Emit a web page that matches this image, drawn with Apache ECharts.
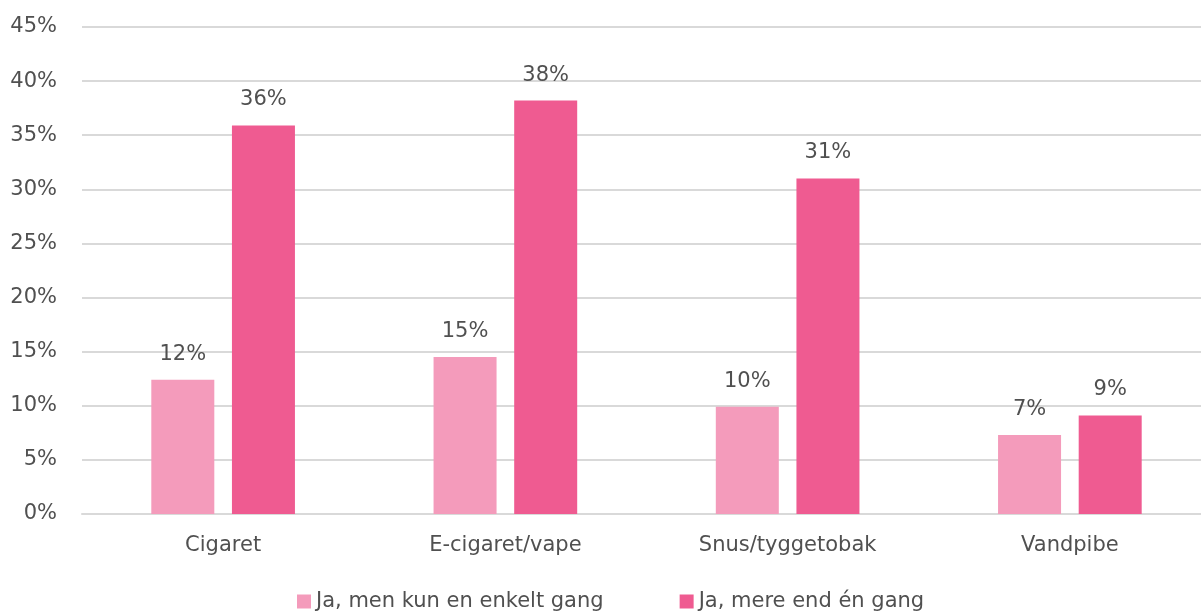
<!DOCTYPE html>
<html>
<head>
<meta charset="utf-8">
<script src="https://cdn.jsdelivr.net/npm/echarts@6/dist/echarts.min.js"></script>
<style>
  html, body { margin: 0; padding: 0; background: #fff; overflow: hidden; }
  /* plot runs a little past the right edge of the window, as in the original */
  #main { width: 1220px; height: 612px; }
</style>
</head>
<body>
<div id="main"></div>
<script>
  const categories = ['Cigaret', 'E-cigaret/vape', 'Snus/tyggetobak', 'Vandpibe']
  const seriesNames = ['Ja, men kun en enkelt gang', 'Ja, mere end én gang']
  const enkeltGang = [12.4, 14.5, 9.9, 7.3]
  const mereEndEn = [35.9, 38.2, 31.0, 9.1]
  const yTicks = [0, 5, 10, 15, 20, 25, 30, 35, 40, 45]
  const colors = ['#F49BBB', '#EF5B91']

  const textColor = '#505050'
  const font = '"DejaVu Sans", sans-serif'
  const fontSize = 21

  const myechart = echarts.init(document.getElementById('main'))
  const barLabel = {
    show: true,
    position: 'top',
    distance: 15,
    color: textColor,
    fontFamily: font,
    fontSize: fontSize,
    formatter: p => Math.round(p.value) + '%'
  }
  const option = {
    animation: false,
    color: colors,
    grid: { left: 82, top: 27, width: 1129, bottom: 98 },
    legend: {
      bottom: -5,
      left: 292,
      icon: 'rect',
      itemWidth: 14,
      itemHeight: 14,
      itemGap: 76,
      textStyle: { color: textColor, fontFamily: font, fontSize: fontSize },
      data: seriesNames
    },
    xAxis: {
      type: 'category',
      data: categories,
      axisLine: { lineStyle: { color: '#d9d9d9', width: 2 } },
      axisTick: { show: false },
      axisLabel: { color: textColor, fontFamily: font, fontSize: fontSize, margin: 21 }
    },
    yAxis: {
      type: 'value',
      min: yTicks[0],
      max: yTicks[yTicks.length - 1],
      interval: 5,
      axisLine: { show: false },
      axisTick: { show: false },
      splitLine: { lineStyle: { color: '#d9d9d9', width: 2 } },
      axisLabel: { color: textColor, fontFamily: font, fontSize: fontSize, margin: 25, formatter: '{value}%' }
    },
    series: [
      { name: seriesNames[0], type: 'bar', data: enkeltGang, barWidth: 63, barGap: '28%', label: barLabel },
      { name: seriesNames[1], type: 'bar', data: mereEndEn, barWidth: 63, barGap: '28%', label: barLabel }
    ]
  }
  myechart.setOption(option)
</script>
</body>
</html>
